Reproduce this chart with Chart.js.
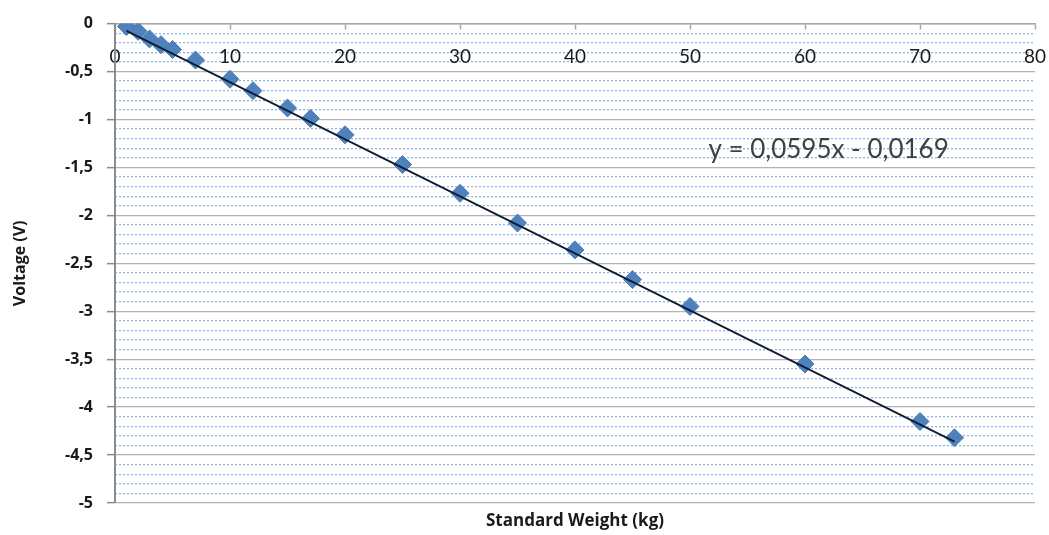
<!DOCTYPE html>
<html>
<head>
<meta charset="utf-8">
<script src="https://cdn.jsdelivr.net/npm/chart.js@4.4.1/dist/chart.umd.min.js"></script>
<style>
  html, body { margin: 0; padding: 0; background: #fff; }
</style>
</head>
<body>
<canvas id="chart" width="1049" height="535"></canvas>
<script>
// calibration points
const weights = [1, 2, 3, 4, 5, 7, 10, 12, 15, 17, 20, 25, 30, 35, 40, 45, 50, 60, 70, 73];
const voltages = [-0.03, -0.08, -0.16, -0.22, -0.27, -0.38, -0.58, -0.70, -0.88, -0.99,
                  -1.16, -1.47, -1.77, -2.08, -2.36, -2.67, -2.95, -3.55, -4.15, -4.32];

// trend line end points (as drawn)
const trendX = [1, 73];
const trendY = [-0.076, -4.36];

const equationText = 'y = 0,0595x - 0,0169';

const FONT = 'Lato, "Open Sans", sans-serif';
const BOLD_FONT = '"Open Sans", Lato, sans-serif';

const isMajor = v => Math.abs(v * 2 - Math.round(v * 2)) < 1e-6;

// draws the trend line equation like Excel does
const equationLabel = {
  id: 'equationLabel',
  afterDatasetsDraw(chart) {
    const { ctx, scales } = chart;
    ctx.save();
    ctx.font = '26px ' + FONT;
    ctx.fillStyle = '#404040';
    ctx.textBaseline = 'middle';
    ctx.fillText(equationText, scales.x.getPixelForValue(51.6), scales.y.getPixelForValue(-1.31));
    ctx.restore();
  }
};

const ctx = document.getElementById('chart').getContext('2d');
const chart = new Chart(ctx, {
  type: 'scatter',
  data: {
    datasets: [
      {
        label: 'Trend',
        type: 'line',
        data: trendX.map((x, i) => ({ x: x, y: trendY[i] })),
        borderColor: '#0e1c33',
        borderWidth: 1.8,
        pointRadius: 0,
        fill: false,
        order: 0
      },
      {
        label: 'Voltage',
        data: weights.map((w, i) => ({ x: w, y: voltages[i] })),
        pointStyle: 'rectRot',
        pointRadius: 9,
        pointHoverRadius: 9,
        backgroundColor: '#4f81bd',
        borderColor: '#4a7ab5',
        borderWidth: 1,
        order: 1
      }
    ]
  },
  options: {
    responsive: false,
    animation: false,
    devicePixelRatio: 1,
    layout: { padding: { left: 0, top: 19, right: 14, bottom: 0 } },
    plugins: {
      legend: { display: false },
      tooltip: { enabled: false }
    },
    scales: {
      x: {
        type: 'linear',
        position: { y: 0 },
        min: 0,
        max: 80,
        ticks: {
          stepSize: 10,
          autoSkip: false,
          maxRotation: 0,
          padding: 17,
          color: '#1a1a1a',
          font: { family: FONT, size: 19 }
        },
        grid: {
          drawOnChartArea: false,
          drawTicks: true,
          tickLength: 5,
          tickColor: '#a6a6a6',
          tickWidth: 1.5
        },
        border: { display: true, color: '#a6a6a6', width: 1.5 },
        // the "80" label may hang past the plot edge, as in the original
        afterFit(scale) { scale.paddingLeft = 0; scale.paddingRight = 0; }
      },
      x2: {
        type: 'linear',
        position: 'bottom',
        min: 0,
        max: 80,
        ticks: { display: false },
        grid: { display: false },
        border: { display: false },
        title: {
          display: true,
          text: 'Standard Weight (kg)',
          color: '#1a1a1a',
          font: { family: BOLD_FONT, size: 17, weight: 'bold' },
          padding: { top: 2, bottom: 4 }
        },
        afterFit(scale) { scale.height = 32; scale.paddingLeft = 0; scale.paddingRight = 0; }
      },
      y: {
        type: 'linear',
        position: 'left',
        min: -5,
        max: 0,
        ticks: {
          stepSize: 0.5,
          autoSkip: false,
          padding: 14,
          color: '#1a1a1a',
          font: { family: BOLD_FONT, size: 16, weight: 'bold' },
          callback: v => String(v).replace('.', ',')
        },
        grid: {
          color: '#b3b3b3',
          lineWidth: 1.3,
          drawTicks: true,
          tickLength: 8,
          tickColor: '#8c8c8c',
          tickWidth: 1.5
        },
        border: { display: true, color: '#8c8c8c', width: 2 },
        title: {
          display: true,
          text: 'Voltage (V)',
          color: '#1a1a1a',
          font: { family: BOLD_FONT, size: 16, weight: 'bold' },
          padding: { top: 11, bottom: 4 }
        },
        afterFit(scale) { scale.width = 115; }
      },
      yMinor: {
        type: 'linear',
        position: 'right',
        min: -5,
        max: 0,
        ticks: { display: false, stepSize: 0.1 },
        grid: {
          drawTicks: false,
          lineWidth: 1.3,
          color: c => isMajor(c.tick.value) ? 'rgba(0,0,0,0)' : '#8db4e2'
        },
        border: { display: false, dash: [2, 2] },
        afterFit(scale) { scale.width = 0; }
      }
    }
  },
  plugins: [equationLabel]
});
</script>
</body>
</html>
